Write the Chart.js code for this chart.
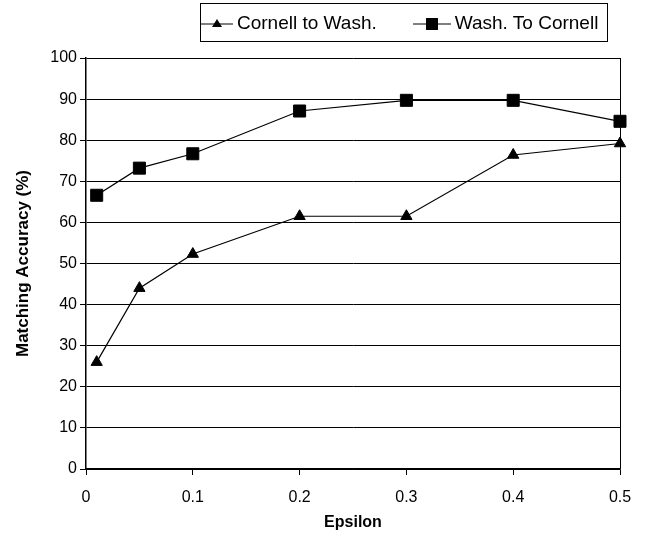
<!DOCTYPE html>
<html lang="en">
<head>
    <meta charset="UTF-8">
    <title>Matching Accuracy vs Epsilon</title>
    <script src="https://cdn.jsdelivr.net/npm/chart.js"></script>
    <style>
        body {
            margin: 0;
            padding: 0;
            background-color: #ffffff;
            font-family: "Liberation Sans", Arial, sans-serif;
        }
        #wrap {
            position: relative;
            width: 646px;
            height: 536px;
        }
        #legend {
            position: absolute;
            left: 200px;
            top: 3px;
            width: 406px;
            height: 37px;
            border: 1px solid #000;
            display: flex;
            align-items: center;
            font-size: 19px;
            color: #000;
            white-space: nowrap;
        }
        #legend span.item {
            display: flex;
            align-items: center;
        }
        #legend svg {
            display: block;
            margin-right: 4px;
        }
    </style>
</head>
<body>
    <div id="wrap">
        <canvas id="myChart" width="646" height="536"></canvas>
        <div id="legend"></div>
    </div>

    <script>
        // values
        const epsilon = [0.01, 0.05, 0.1, 0.2, 0.3, 0.4, 0.5];
        const cornellToWash = [26, 44, 52.3, 61.5, 61.5, 76.4, 79.2];
        const washToCornell = [66.6, 73.2, 76.7, 87.1, 89.7, 89.7, 84.6];
        const seriesNames = ['Cornell to Wash.', 'Wash. To Cornell'];

        const font = '"Liberation Sans", Arial, sans-serif';

        function toPoints(xs, ys) {
            return xs.map((x, i) => ({ x: x, y: ys[i] }));
        }

        // legend (line with marker in the middle)
        const legend = document.getElementById('legend');
        legend.innerHTML =
            '<span class="item">' +
            '<svg width="32" height="14"><line x1="0" y1="8" x2="32" y2="8" stroke="#000" stroke-width="1"/>' +
            '<polygon points="16,3 21,11 11,11" fill="#000"/></svg>' + seriesNames[0] + '</span>' +
            '<span class="item" style="margin-left:36px">' +
            '<svg width="38" height="14"><line x1="0" y1="8" x2="38" y2="8" stroke="#000" stroke-width="1"/>' +
            '<rect x="13" y="2" width="12" height="12" fill="#000"/></svg>' + seriesNames[1] + '</span>';

        const ctx = document.getElementById('myChart').getContext('2d');
        new Chart(ctx, {
            type: 'line',
            data: {
                datasets: [
                    {
                        label: seriesNames[0],
                        data: toPoints(epsilon, cornellToWash),
                        borderColor: '#000',
                        backgroundColor: '#000',
                        borderWidth: 1.2,
                        pointStyle: 'triangle',
                        pointRadius: 6.5,
                        pointBorderWidth: 1,
                        tension: 0,
                        clip: false
                    },
                    {
                        label: seriesNames[1],
                        data: toPoints(epsilon, washToCornell),
                        borderColor: '#000',
                        backgroundColor: '#000',
                        borderWidth: 1.2,
                        pointStyle: 'rect',
                        pointRadius: 8.5,
                        pointBorderWidth: 1,
                        tension: 0,
                        clip: false
                    }
                ]
            },
            options: {
                responsive: false,
                animation: false,
                layout: {
                    padding: { top: 58, right: 26, left: 0, bottom: 0 }
                },
                plugins: {
                    legend: { display: false },
                    tooltip: { enabled: false }
                },
                scales: {
                    x: {
                        type: 'linear',
                        min: 0,
                        max: 0.5,
                        afterFit: (scale) => { scale.height = 67; },
                        ticks: {
                            stepSize: 0.1,
                            color: '#000',
                            padding: 13,
                            font: { family: font, size: 16 },
                            callback: (v) => String(+v.toFixed(1))
                        },
                        grid: {
                            drawOnChartArea: true,
                            color: (c) => (c.tick && Math.abs(c.tick.value - 0.5) < 1e-9) ? '#000' : 'rgba(0,0,0,0)',
                            tickColor: '#000',
                            tickLength: 6,
                            lineWidth: 1
                        },
                        border: { color: '#000', width: 1.5 },
                        title: {
                            display: true,
                            text: 'Epsilon',
                            color: '#000',
                            font: { family: font, size: 16, weight: 'bold' },
                            padding: { top: 0, bottom: 4 }
                        }
                    },
                    y: {
                        min: 0,
                        max: 100,
                        afterFit: (scale) => { scale.width = 86; },
                        ticks: {
                            stepSize: 10,
                            color: '#000',
                            padding: 3,
                            font: { family: font, size: 16 }
                        },
                        grid: {
                            color: '#000',
                            tickColor: '#000',
                            tickLength: 6,
                            lineWidth: 1
                        },
                        border: { color: '#000', width: 1.5 },
                        title: {
                            display: true,
                            text: 'Matching Accuracy (%)',
                            color: '#000',
                            font: { family: font, size: 17, weight: 'bold' },
                            padding: { top: 13, bottom: 0 }
                        }
                    }
                }
            }
        });
    </script>
</body>
</html>
